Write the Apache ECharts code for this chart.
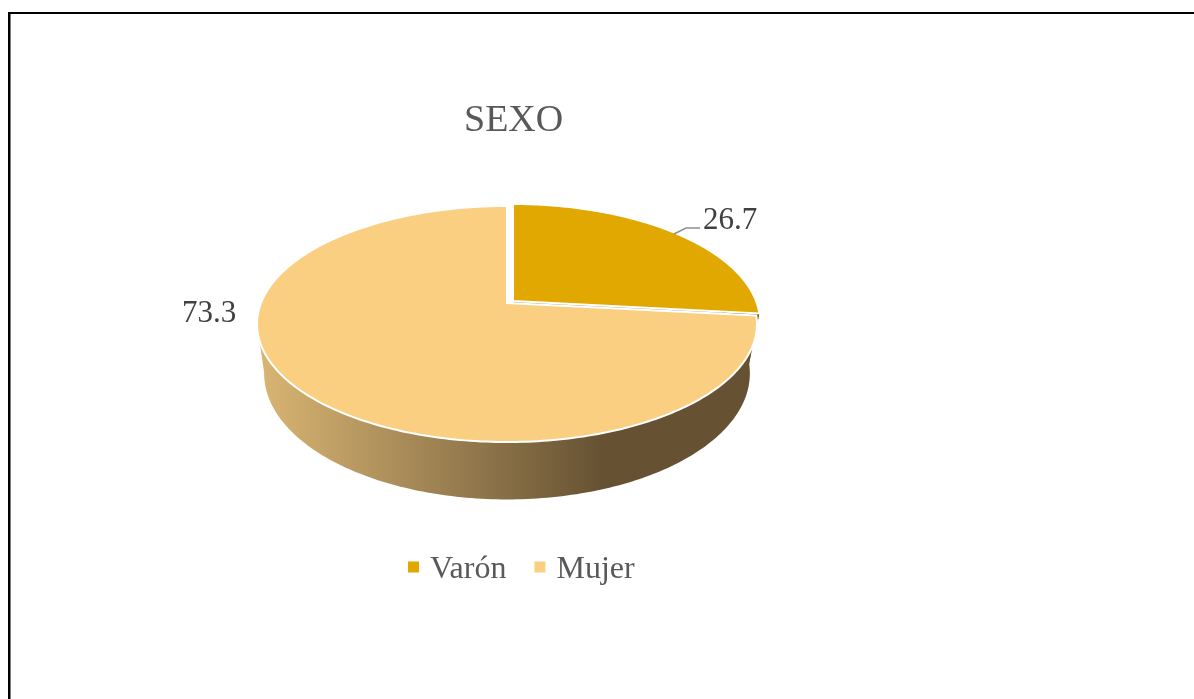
<!DOCTYPE html>
<html>
<head>
<meta charset="utf-8">
<style>html,body{margin:0;padding:0;background:#fff}#c{width:1194px;height:699px}</style>
<script src="https://cdn.jsdelivr.net/npm/echarts@6/dist/echarts.min.js"></script>
</head>
<body>
<div id="c"></div>
<script>
const categories = ['Varón', 'Mujer'];
const values = [26.7, 73.3];
const titleText = 'SEXO';

const chart = echarts.init(document.getElementById('c'), null, { renderer: 'canvas' });
const P = 0.178;
const RAD = Math.PI / 180;
const TOP = { x0: 507, y0: 303, b: 246, a: 114.3 };
const BOTTOM = { x0: 507, y0: 351, b: 239, a: 122 };
const OFFSET = [{ dx: 6, dy: -2, k: 0.988 }, { dx: 0, dy: 0, k: 1 }];
const total = values.reduce((s, v) => s + v, 0);

function project(face, deg, off) {
  const s = Math.sin(deg * RAD), c = Math.cos(deg * RAD), d = 1 + P * c;
  return [face.x0 + off.dx + off.k * face.b * s / d, face.y0 + off.dy - face.a * c / d];
}
function arc(face, from, to, off) {
  const pts = [], n = Math.max(2, Math.ceil(Math.abs(to - from)));
  for (let i = 0; i <= n; i++) pts.push(project(face, from + (to - from) * i / n, off));
  return pts;
}
function makeSlice(idx) {
  return function (params, api) {
    const start = api.value(0) / total * 360;
    const end = start + api.value(1) / total * 360;
    const off = OFFSET[idx];
    const kids = [];
    const apexTop = [TOP.x0 + off.dx, TOP.y0 + off.dy];
    if (idx === 0) {
      const lowOff = { dx: 3, dy: off.dy, k: off.k };
      const tipT = project(TOP, end, off), tipB = project(BOTTOM, end, lowOff);
      kids.push({ type: 'polygon', shape: { points: [apexTop, tipT, tipB, [BOTTOM.x0, BOTTOM.y0 + off.dy]] },
        style: { fill: '#a89a70' } });
      kids.push({ type: 'polygon', shape: { points: arc(TOP, 60, end, off).concat(arc(BOTTOM, end, 60, lowOff)) },
        style: { fill: '#6f5500' } });
    } else {
      const wallEnd = Math.min(end, 260);
      kids.push({ type: 'polygon', shape: { points: arc(TOP, start, wallEnd, off).concat(arc(BOTTOM, wallEnd, start, off)) },
        style: { fill: new echarts.graphic.LinearGradient(0, 0, 1, 0, [
          { offset: 0, color: '#dab674' },
          { offset: 0.69, color: '#665233' },
          { offset: 1, color: '#665233' }
        ]) } });
    }
    kids.push({ type: 'polygon', shape: { points: [apexTop].concat(arc(TOP, start, end, off)) },
      style: { fill: api.visual('color'), stroke: '#ffffff', lineWidth: 2, lineJoin: 'miter' } });
    if (idx === 0) {
      kids.push({ type: 'polyline', shape: { points: [[674, 234], [686, 228], [700, 228]] },
        style: { fill: null, stroke: '#8f8f8f', lineWidth: 1.5 } });
      kids.push({ type: 'text', style: { x: 703, y: 221, text: api.value(1).toFixed(1), fill: '#404040',
        font: '31px "Liberation Serif"', textAlign: 'left', textVerticalAlign: 'middle' } });
    } else {
      kids.push({ type: 'text', style: { x: 182, y: 314, text: api.value(1).toFixed(1), fill: '#404040',
        font: '31px "Liberation Serif"', textAlign: 'left', textVerticalAlign: 'middle' } });
    }
    return { type: 'group', children: kids };
  };
}
const colors = ['#e0a800', '#fbcf82'];
let acc = 0;
const series = categories.map((name, i) => {
  const s = { type: 'custom', name, coordinateSystem: 'none', renderItem: makeSlice(i),
    itemStyle: { color: colors[i] }, z: 2 + i, silent: true, animation: false,
    data: [[acc, values[i]]] };
  acc += values[i];
  return s;
});

chart.setOption({
  animation: false,
  backgroundColor: '#ffffff',
  title: { text: titleText, left: 459, top: 97,
    textStyle: { fontFamily: 'Liberation Serif', fontSize: 38, fontWeight: 'normal', color: '#595959' } },
  legend: { data: categories, left: 403, top: 549, icon: 'path://M0 0L11 0L11 11L0 11ZM0 17L0.01 17L0 17Z', itemWidth: 11, itemHeight: 17, itemGap: 28,
    selectedMode: false,
    textStyle: { fontFamily: 'Liberation Serif', fontSize: 32, color: '#595959', padding: [0, 0, 0, 6] } },
  graphic: [
    { type: 'line', shape: { x1: 9.25, y1: 12, x2: 9.25, y2: 699 }, style: { stroke: '#000', lineWidth: 2.5 }, silent: true },
    { type: 'line', shape: { x1: 8, y1: 13, x2: 1194, y2: 13 }, style: { stroke: '#000', lineWidth: 2.2 }, silent: true }
  ],
  series
});
</script>
</body>
</html>
